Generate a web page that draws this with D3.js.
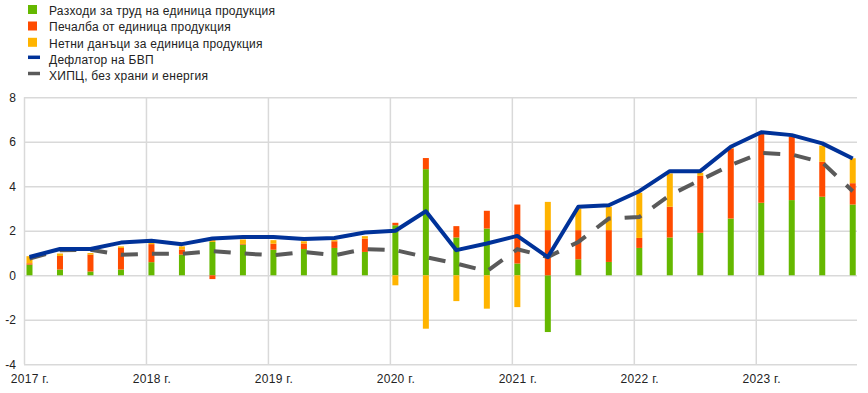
<!DOCTYPE html>
<html>
<head>
<meta charset="utf-8">
<script src="https://cdn.jsdelivr.net/npm/d3@7"></script>
<style>
  html, body { margin: 0; padding: 0; background: #fff; }
  svg { display: block; font-family: "Liberation Sans", Arial, sans-serif; }
</style>
</head>
<body>
<svg id="chart" width="868" height="393"></svg>
<script>
// ---- Data ----
const quarters = [
  "2017Q1","2017Q2","2017Q3","2017Q4",
  "2018Q1","2018Q2","2018Q3","2018Q4",
  "2019Q1","2019Q2","2019Q3","2019Q4",
  "2020Q1","2020Q2","2020Q3","2020Q4",
  "2021Q1","2021Q2","2021Q3","2021Q4",
  "2022Q1","2022Q2","2022Q3","2022Q4",
  "2023Q1","2023Q2","2023Q3","2023Q4"
];
const yearLabels = ["2017 г.","2018 г.","2019 г.","2020 г.","2021 г.","2022 г.","2023 г."];
const yTicks = [-4, -2, 0, 2, 4, 6, 8];

const unitLabour = [0.48,0.26,0.17,0.26, 0.59,0.93,1.50,1.38, 1.15,1.18,1.23,1.05,
                    2.25,4.77,1.70,2.10, 0.53,-2.55,0.72,0.60, 1.23,1.70,1.91,2.55,
                    3.26,3.38,3.53,3.18];
const unitProfits = [0.06,0.61,0.76,0.97, 0.81,0.23,-0.17,0.03, 0.27,0.25,0.30,0.60,
                     0.11,0.50,0.51,0.80, 2.65,2.03,1.31,1.43, 0.45,1.38,2.56,3.15,
                     3.12,2.85,1.57,0.96];
const unitTaxes = [0.32,0.11,0.07,0.07, 0.05,0.14,0.22,0.20, 0.16,0.10,0.05,0.11,
                   -0.45,-2.40,-1.16,-1.50, -1.43,1.27,0.97,1.05, 2.03,1.50,0.14,0.05,
                   0.02,0.02,0.73,1.12];
const gdpDeflator = [0.82,1.18,1.18,1.47, 1.55,1.40,1.65,1.72, 1.72,1.63,1.68,1.92,
                     2.00,2.88,1.13,1.43, 1.77,0.82,3.08,3.15, 3.78,4.68,4.68,5.78,
                     6.43,6.30,5.93,5.25];
const hicpx = [0.75,1.13,1.15,0.92, 0.97,0.97,1.08,0.98, 0.90,1.05,0.90,1.18,
               1.13,0.82,0.53,0.18, 1.17,0.82,1.50,2.55, 2.62,3.60,4.28,4.95,
               5.50,5.43,5.07,3.78];

const seriesNames = ["Разходи за труд на единица продукция",
                     "Печалба от единица продукция",
                     "Нетни данъци за единица продукция"];
const lineNames = ["Дефлатор на БВП", "ХИПЦ, без храни и енергия"];
const colors = ["#65b800", "#ff4b00", "#ffb400"];
const blue = "#003299", grey = "#5a5a5a";

// ---- Layout ----
const svg = d3.select("#chart");
const pLeft = 24, pRight = 857, pTop = 97.3, pBottom = 364.3;

const x = d3.scaleLinear().domain([-0.18, 27.14]).range([pLeft, pRight]);
const y = d3.scaleLinear().domain([-4, 8]).range([pBottom, pTop]);

// gridlines
const gridColor = "#d9d9d9";
const gY = svg.append("g").attr("transform", `translate(${pLeft},0)`)
  .call(d3.axisLeft(y).tickValues(yTicks).tickSize(-(pRight - pLeft)).tickFormat(""));
gY.select(".domain").remove();
gY.selectAll("line").attr("stroke", gridColor).attr("stroke-width", 1.5);

const yearIdx = yearLabels.map((d, i) => i * 4);
const gX = svg.append("g").attr("transform", `translate(0,${pBottom})`)
  .call(d3.axisBottom(x).tickValues(yearIdx.map(v => v - 0.18)).tickSize(-(pBottom - pTop)).tickFormat(""));
gX.select(".domain").remove();
gX.selectAll("line").attr("stroke", gridColor).attr("stroke-width", 1.5);

// y labels
const yl = svg.append("g").attr("transform", `translate(16,0)`)
  .call(d3.axisLeft(y).tickValues(yTicks).tickSize(0).tickPadding(0).tickFormat(d => String(d)));
yl.select(".domain").remove();
yl.selectAll("text").attr("font-size", 12).attr("fill", "#222")
  .attr("font-family", "Liberation Sans, Arial, sans-serif");

// x labels
const xl = svg.append("g").attr("transform", `translate(0,${pBottom + 6})`)
  .call(d3.axisBottom(x).tickValues(yearIdx).tickSize(0).tickPadding(4)
        .tickFormat((d, i) => yearLabels[i]));
xl.select(".domain").remove();
xl.selectAll("text").attr("font-size", 12).attr("fill", "#222")
  .attr("font-family", "Liberation Sans, Arial, sans-serif")
  .attr("letter-spacing", 0.3);

// ---- Stacked bars ----
const rows = quarters.map((q, i) => ({ i, a: unitLabour[i], b: unitProfits[i], c: unitTaxes[i] }));
const stack = d3.stack().keys(["a", "b", "c"]).offset(d3.stackOffsetDiverging);
const stacked = stack(rows);
const barW = 6;
svg.append("g").selectAll("g").data(stacked).join("g")
  .attr("fill", (d, k) => colors[k])
  .selectAll("rect").data(d => d).join("rect")
  .attr("x", d => x(d.data.i) - barW / 2)
  .attr("width", barW)
  .attr("y", d => y(Math.max(d[0], d[1])))
  .attr("height", d => Math.abs(y(d[0]) - y(d[1])));

// ---- Lines ----
const line = d3.line().x((d, i) => x(i)).y(d => y(d));
svg.append("path").datum(hicpx).attr("d", line)
  .attr("fill", "none").attr("stroke", grey).attr("stroke-width", 4)
  .attr("stroke-dasharray", "17,14");
svg.append("path").datum(gdpDeflator).attr("d", line)
  .attr("fill", "none").attr("stroke", blue).attr("stroke-width", 4)
  .attr("stroke-linejoin", "round");

// ---- Legend ----
const legend = svg.append("g").attr("font-size", 12).attr("fill", "#222")
  .attr("letter-spacing", 0.25);
const rowY = [10.5, 27, 43.3, 59.8, 76];
seriesNames.forEach((n, k) => {
  legend.append("rect").attr("x", 28).attr("y", rowY[k] - 5.5).attr("width", 9).attr("height", 9)
    .attr("fill", colors[k]);
  legend.append("text").attr("x", 49).attr("y", rowY[k]).attr("dy", "0.35em").text(n);
});
[[blue, lineNames[0]], [grey, lineNames[1]]].forEach(([c, n], j) => {
  const ry = rowY[3 + j];
  legend.append("line").attr("x1", 28).attr("x2", 40).attr("y1", ry - 2.5).attr("y2", ry - 2.5)
    .attr("stroke", c).attr("stroke-width", 3.5);
  legend.append("text").attr("x", 49).attr("y", ry).attr("dy", "0.35em").text(n);
});
</script>
</body>
</html>
